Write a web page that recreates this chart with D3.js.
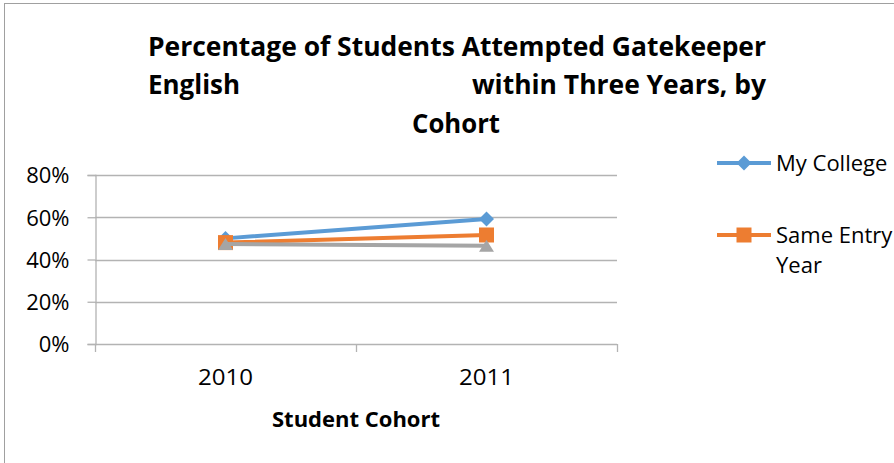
<!DOCTYPE html>
<html><head><meta charset="utf-8">
<script src="https://cdn.jsdelivr.net/npm/d3@7"></script>
<style>body{margin:0;background:#fff;} text{font-family:"Open Sans",Lato,sans-serif;}</style>
</head><body>
<svg id="chart" width="894" height="463"></svg>
<script>
const categories = ["2010", "2011"];
const seriesNames = ["My College", "Same Entry Year", "Series3"];
const myCollege = [0.50, 0.592];
const sameEntry = [0.48, 0.516];
const series3 = [0.473, 0.465];
const yTicks = [0, 0.2, 0.4, 0.6, 0.8];
const titleLines = ["Percentage of Students Attempted Gatekeeper", "English", "within Three Years, by", "Cohort"];
const xTitle = "Student Cohort";

(function(){
const colors = ["#5B9BD5", "#ED7D31", "#A5A5A5"];
const diamond = {draw(ctx, s){ const h=s/2; ctx.moveTo(0,-h); ctx.lineTo(h,0); ctx.lineTo(0,h); ctx.lineTo(-h,0); ctx.closePath(); }};
const square = {draw(ctx, s){ const h=s/2; ctx.rect(-h,-h,s,s); }};
const triangle = {draw(ctx, s){ const h=s/2, v=s*0.4; ctx.moveTo(0,-v); ctx.lineTo(h,v); ctx.lineTo(-h,v); ctx.closePath(); }};
const shapes = [diamond, square, triangle];
const sizes = [15, 15, 15];
const FONT = "Open Sans";

const svg = d3.select("#chart");
svg.append("rect").attr("x",4.5).attr("y",3.5).attr("width",1000).attr("height",1000)
  .attr("fill","#fff").attr("stroke","#a0a0a0").attr("stroke-width",1);

const pL = 95, pR = 617, pT = 175, pB = 344;
const x = d3.scaleBand().domain(categories).range([pL, pR]);
const y = d3.scaleLinear().domain([0, 0.8]).range([pB, pT]);

svg.append("g").selectAll("line").data(yTicks).join("line")
  .attr("x1", pL).attr("x2", pR)
  .attr("y1", d => Math.round(y(d))+0.5).attr("y2", d => Math.round(y(d))+0.5)
  .attr("stroke", "#b3b3b3").attr("stroke-width", 1.3);

const yAxis = svg.append("g").attr("transform", `translate(${pL+0.5},0)`)
  .call(d3.axisLeft(y).tickValues(yTicks).tickFormat(d3.format(".0%")).tickSize(8).tickPadding(18));
yAxis.select(".domain").attr("stroke","#b3b3b3").attr("stroke-width",1.3);
yAxis.selectAll(".tick line").attr("stroke","#b3b3b3").attr("stroke-width",1.3);
yAxis.selectAll(".tick text").attr("font-size",22).attr("fill","#000").attr("font-family",FONT).attr("dy","0.36em");

const xAxis = svg.append("g").attr("transform", `translate(0,${pB+0.5})`)
  .call(d3.axisBottom(x).tickSize(0).tickPadding(25));
xAxis.select(".domain").remove();
xAxis.selectAll(".tick text").attr("font-size",22).attr("fill","#000").attr("font-family",FONT)
  .attr("textLength",55).attr("lengthAdjust","spacingAndGlyphs");
const bounds = [pL, ...categories.map(c => x(c) + x.bandwidth())];
svg.append("g").selectAll("line").data(bounds).join("line")
  .attr("x1", d => Math.round(d)+0.5).attr("x2", d => Math.round(d)+0.5)
  .attr("y1", pB).attr("y2", pB+8)
  .attr("stroke","#b3b3b3").attr("stroke-width",1.3);

const allSeries = [myCollege, sameEntry, series3];
const cx = c => x(c) + x.bandwidth()/2;
const line = d3.line().x((d,i) => cx(categories[i])).y(d => y(d));
[0,1,2].forEach(si => {
  const vals = allSeries[si];
  svg.append("path").datum(vals).attr("d", line)
    .attr("fill","none").attr("stroke",colors[si]).attr("stroke-width",4).attr("stroke-linecap","round");
  svg.append("g").selectAll("path").data(vals).join("path")
    .attr("transform",(d,i) => `translate(${cx(categories[i])},${y(d)})`)
    .attr("d", d3.symbol().type(shapes[si]).size(sizes[si]))
    .attr("fill",colors[si]);
});

const t = svg.append("g").attr("font-weight","bold").attr("font-size",26).attr("fill","#000");
const tl = (s, xx, yy, anchor, len) => t.append("text").attr("x",xx).attr("y",yy)
  .attr("text-anchor",anchor).attr("textLength",len).attr("lengthAdjust","spacingAndGlyphs").text(s);
tl(titleLines[0], 457, 56, "middle", 618);
tl(titleLines[1], 148, 94, "start", 92);
tl(titleLines[2], 766, 94, "end", 294);
tl(titleLines[3], 456, 133, "middle", 88);

svg.append("text").attr("x",356).attr("y",427).attr("text-anchor","middle")
  .attr("font-weight","bold").attr("font-size",22)
  .attr("textLength",168).attr("lengthAdjust","spacingAndGlyphs").text(xTitle);

const leg = [
  {lines:["My College"], y:163},
  {lines:["Same Entry","Year"], y:235}
];
leg.forEach((L,i) => {
  const g = svg.append("g");
  g.append("line").attr("x1",717).attr("x2",771).attr("y1",L.y).attr("y2",L.y)
    .attr("stroke",colors[i]).attr("stroke-width",4);
  g.append("path").attr("transform",`translate(744,${L.y})`)
    .attr("d", d3.symbol().type(shapes[i]).size(sizes[i])).attr("fill",colors[i]);
  L.lines.forEach((s,j) => g.append("text").attr("x",776).attr("y",L.y+8+j*30)
    .attr("font-size",22).attr("fill","#000").text(s));
});
})();
</script>
</body></html>
